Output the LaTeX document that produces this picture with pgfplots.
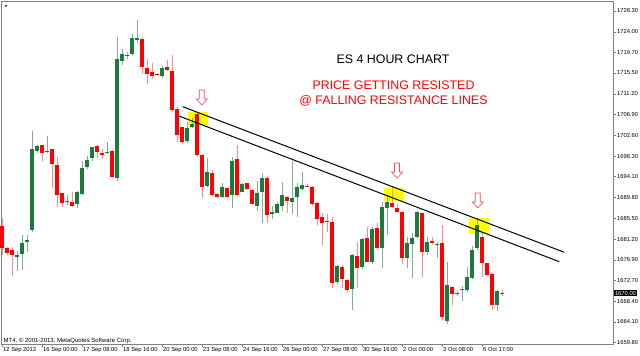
\documentclass[border=0pt]{standalone}
\usepackage{fontspec}
\setmainfont{Liberation Sans}
\usepackage{pgfplots}
\pgfplotsset{compat=1.18}
\definecolor{bodyred}{RGB}{255,0,0}
\definecolor{wickred}{RGB}{255,140,140}
\definecolor{bodygreen}{RGB}{28,122,58}
\definecolor{wickgreen}{RGB}{135,170,148}
\definecolor{arrowred}{RGB}{255,70,80}
\definecolor{hl}{RGB}{255,255,0}
\newcommand{\downarrowmark}[2]{%
  \filldraw[fill=white, draw=arrowred, line width=0.6pt, line join=miter]
    (axis cs:#1,#2) -- ++(5.5pt,6pt) -- ++(-3pt,0pt) -- ++(0pt,9pt) -- ++(-5pt,0pt)
    -- ++(0pt,-9pt) -- ++(-3pt,0pt) -- cycle;}
\begin{document}
\begin{tikzpicture}
\useasboundingbox (-1.5pt,-11.5pt) rectangle (638.5pt,344.5pt);
\begin{axis}[
  scale only axis, width=611.5pt, height=343.2pt,
  xmin=-0.1, xmax=122.2, ymin=1659.43, ymax=1730.30,
  unbounded coords=jump,
  axis line style={draw=gray, line width=0.6pt},
  tick align=outside, major tick length=3pt,
  xtick pos=left, ytick pos=right, yticklabel pos=right,
  tick style={draw=gray, line width=0.5pt},
  xtick={0,8,...,96},
  xticklabels={12 Sep 2013, 16 Sep 00:00, 17 Sep 08:00, 18 Sep 16:00, 20 Sep 00:00, 23 Sep 08:00, 24 Sep 16:00, 26 Sep 00:00, 27 Sep 08:00, 30 Sep 16:00, 2 Oct 00:00, 3 Oct 08:00, 6 Oct 17:00},
  ytick={1659.80,1664.10,1668.40,1672.70,1676.90,1681.20,1685.50,1689.80,1694.10,1698.30,1702.60,1706.90,1711.20,1715.50,1719.70,1724.00,1728.30},
  yticklabels={1659.80,1664.10,1668.40,1672.70,1676.90,1681.20,1685.50,1689.80,1694.10,1698.30,1702.60,1706.90,1711.20,1715.50,1719.70,1724.00,1728.30},
  xticklabel style={font=\fontsize{5.8}{6}\selectfont, anchor=north west, inner sep=0pt, xshift=1pt},
  yticklabel style={font=\fontsize{5.8}{6}\selectfont, anchor=west, inner sep=0pt, xshift=1pt},
  clip=false,
]
% yellow highlight boxes
\addplot[fill=hl, draw=none] coordinates {(37.1,1704.76) (41.1,1704.76) (41.1,1707.50) (37.1,1707.50)} -- cycle;
\addplot[fill=hl, draw=none] coordinates {(76.3,1689.06) (80.3,1689.06) (80.3,1691.81) (76.3,1691.81)} -- cycle;
\addplot[fill=hl, draw=none] coordinates {(93.4,1682.18) (97.3,1682.18) (97.3,1685.49) (93.4,1685.49)} -- cycle;
% red wicks (low, high)
\addplot[draw=wickred, line width=0.8pt, mark=none] coordinates {
(0,1677.91)(0,1685.49)(0,nan) (1,1677.91)(1,1679.62)(1,nan) (2,1673.64)(2,1679.50)(2,nan)
(8,1697.32)(8,1700.63)(8,nan) (10,1691.68)(10,1699.90)(10,nan) (11,1687.88)(11,1698.21)(11,nan)
(12,1687.88)(12,1690.80)(12,nan) (14,1687.88)(14,1690.98)(14,nan) (19,1698.00)(19,1700.63)(19,nan)
(20,1697.73)(20,1699.80)(20,nan) (22,1693.75)(22,1699.60)(22,nan) (25,1718.39)(25,1719.89)(25,nan)
(28,1715.29)(28,1722.99)(28,nan) (29,1713.16)(29,1718.39)(29,nan) (30,1714.26)(30,1717.50)(30,nan)
(31,1714.88)(31,1715.39)(31,nan) (33,1715.97)(33,1718.18)(33,nan) (34,1707.65)(34,1719.21)(34,nan)
(35,1701.31)(35,1708.54)(35,nan) (36,1701.04)(36,1704.40)(36,nan) (39,1698.21)(39,1707.44)(39,nan)
(40,1689.62)(40,1698.71)(40,nan) (42,1690.16)(42,1695.46)(42,nan) (43,1689.62)(43,1690.65)(43,nan)
(45,1689.74)(45,1692.01)(45,nan) (47,1690.09)(47,1700.63)(47,nan) (49,1691.33)(49,1692.84)(49,nan)
(50,1688.24)(50,1691.48)(50,nan) (53,1684.58)(53,1694.22)(53,nan) (57,1686.65)(57,1690.09)(57,nan)
(61,1691.95)(61,1692.47)(61,nan) (62,1688.09)(62,1692.15)(62,nan) (63,1684.11)(63,1688.92)(63,nan)
(64,1679.98)(64,1686.52)(64,nan) (65,1682.72)(65,1686.38)(65,nan) (66,1671.03)(66,1685.70)(66,nan)
(68,1671.10)(68,1675.85)(68,nan) (69,1670.33)(69,1672.95)(69,nan) (71,1671.03)(71,1680.66)(71,nan)
(73,1676.40)(73,1683.63)(73,nan) (75,1679.15)(75,1684.58)(75,nan) (78,1687.55)(78,1691.89)(78,nan)
(79,1686.52)(79,1688.38)(79,nan) (80,1675.99)(80,1687.00)(80,nan) (84,1673.43)(84,1686.65)(84,nan)
(86,1679.98)(86,1681.69)(86,nan) (88,1664.59)(88,1684.11)(88,nan) (90,1667.58)(90,1671.50)(90,nan)
(91,1669.44)(91,1670.68)(91,nan) (96,1673.43)(96,1682.39)(96,nan) (97,1673.57)(97,1676.26)(97,nan)
(98,1666.55)(98,1674.13)(98,nan) (100,1669.51)(100,1670.68)(100,nan)
};
% green wicks (low, high)
\addplot[draw=wickgreen, line width=0.8pt, mark=none] coordinates {
(3,1674.67)(3,1678.74)(3,nan) (4,1674.81)(4,1682.04)(4,nan) (5,1678.59)(5,1682.04)(5,nan)
(6,1682.60)(6,1703.52)(6,nan) (7,1698.91)(7,1700.63)(7,nan) (9,1698.91)(9,1702.48)(9,nan)
(13,1688.24)(13,1690.30)(13,nan) (15,1687.55)(15,1691.13)(15,nan) (16,1690.30)(16,1697.38)(16,nan)
(17,1695.57)(17,1698.35)(17,nan) (18,1697.32)(18,1700.28)(18,nan) (21,1698.77)(21,1701.25)(21,nan)
(23,1693.25)(23,1722.99)(23,nan) (24,1717.15)(24,1720.39)(24,nan) (26,1719.07)(26,1723.49)(26,nan)
(27,1721.63)(27,1726.44)(27,nan) (32,1714.40)(32,1716.94)(32,nan) (37,1701.10)(37,1705.44)(37,nan)
(38,1704.07)(38,1706.26)(38,nan) (41,1692.01)(41,1697.88)(41,nan) (44,1689.62)(44,1692.72)(44,nan)
(46,1687.68)(46,1698.21)(46,nan) (48,1690.86)(48,1692.84)(48,nan) (51,1687.06)(51,1693.25)(51,nan)
(52,1684.46)(52,1694.78)(52,nan) (54,1685.34)(54,1688.03)(54,nan) (55,1686.52)(55,1688.92)(55,nan)
(56,1687.06)(56,1692.92)(56,nan) (58,1686.38)(58,1697.38)(58,nan) (59,1685.82)(59,1692.72)(59,nan)
(60,1691.40)(60,1695.11)(60,nan) (67,1671.92)(67,1675.85)(67,nan) (70,1666.55)(70,1678.12)(70,nan)
(72,1675.12)(72,1681.42)(72,nan) (74,1675.99)(74,1683.75)(74,nan) (76,1675.16)(76,1688.92)(76,nan)
(77,1682.04)(77,1690.30)(77,nan) (81,1675.29)(81,1681.69)(81,nan) (82,1673.10)(82,1682.39)(82,nan)
(83,1681.42)(83,1687.00)(83,nan) (85,1677.91)(85,1681.69)(85,nan) (87,1677.23)(87,1680.66)(87,nan)
(89,1663.60)(89,1676.46)(89,nan) (92,1668.41)(92,1671.57)(92,nan) (93,1670.33)(93,1675.49)(93,nan)
(94,1673.05)(94,1679.77)(94,nan) (95,1678.94)(95,1685.49)(95,nan) (99,1666.35)(99,1670.68)(99,nan)
};
% red bodies (open, close)
\addplot[draw=bodyred, line width=3.1pt, mark=none] coordinates {
(0,1683.96)(0,1679.29)(0,nan) (1,1679.42)(1,1678.38)(1,nan) (2,1678.94)(2,1677.91)(2,nan)
(8,1700.63)(8,1698.91)(8,nan) (10,1699.74)(10,1696.70)(10,nan) (11,1696.50)(11,1690.30)(11,nan)
(12,1690.65)(12,1688.71)(12,nan) (14,1688.92)(14,1688.03)(14,nan) (19,1700.42)(19,1699.24)(19,nan)
(20,1698.97)(20,1698.56)(20,nan) (22,1699.45)(22,1694.02)(22,nan) (25,1719.21)(25,1719.01)(25,nan)
(28,1722.45)(28,1716.67)(28,nan) (29,1716.47)(29,1715.29)(29,nan) (30,1715.64)(30,1714.81)(30,nan)
(31,1715.23)(31,1715.02)(31,nan) (33,1716.73)(33,1716.18)(33,nan) (34,1715.91)(34,1707.79)(34,nan)
(35,1708.00)(35,1702.69)(35,nan) (36,1704.28)(36,1701.31)(36,nan) (39,1707.03)(39,1698.46)(39,nan)
(40,1698.56)(40,1692.01)(40,nan) (42,1694.91)(42,1690.30)(42,nan) (43,1690.44)(43,1689.83)(43,nan)
(45,1691.68)(45,1689.95)(45,nan) (47,1697.67)(47,1690.30)(47,nan) (49,1692.72)(49,1691.54)(49,nan)
(50,1691.33)(50,1688.38)(50,nan) (53,1693.75)(53,1686.17)(53,nan) (57,1689.83)(57,1689.06)(57,nan)
(61,1692.22)(61,1692.01)(61,nan) (62,1692.01)(62,1688.44)(62,nan) (63,1688.71)(63,1685.34)(63,nan)
(64,1685.70)(64,1684.58)(64,nan) (65,1684.99)(65,1684.79)(65,nan) (66,1684.66)(66,1672.19)(66,nan)
(68,1675.43)(68,1672.95)(68,nan) (69,1672.75)(69,1670.68)(69,nan) (71,1677.70)(71,1675.16)(71,nan)
(73,1681.36)(73,1676.53)(73,nan) (75,1683.55)(75,1679.29)(75,nan) (78,1688.71)(78,1687.88)(78,nan)
(79,1687.68)(79,1686.73)(79,nan) (80,1686.85)(80,1677.35)(80,nan) (84,1686.52)(84,1678.47)(84,nan)
(86,1680.86)(86,1680.33)(86,nan) (88,1680.33)(88,1665.17)(88,nan) (90,1671.36)(90,1669.79)(90,nan)
(91,1670.06)(91,1669.86)(91,nan) (96,1681.69)(96,1676.20)(96,nan) (97,1676.20)(97,1673.78)(97,nan)
(98,1673.99)(98,1667.58)(98,nan) (100,1670.13)(100,1669.92)(100,nan)
};
% green bodies (open, close)
\addplot[draw=bodygreen, line width=3.1pt, mark=none] coordinates {
(3,1677.56)(3,1677.91)(3,nan) (4,1678.18)(4,1680.39)(4,nan) (5,1680.59)(5,1680.95)(5,nan)
(6,1683.01)(6,1699.74)(6,nan) (7,1699.45)(7,1700.42)(7,nan) (9,1699.24)(9,1699.45)(9,nan)
(13,1688.79)(13,1689.12)(13,nan) (15,1688.44)(15,1690.86)(15,nan) (16,1690.51)(16,1695.94)(16,nan)
(17,1696.08)(17,1697.63)(17,nan) (18,1697.88)(18,1700.15)(18,nan) (21,1698.91)(21,1699.24)(21,nan)
(23,1693.75)(23,1718.39)(23,nan) (24,1718.03)(24,1719.42)(24,nan) (26,1719.42)(26,1722.66)(26,nan)
(27,1722.37)(27,1722.66)(27,nan) (32,1714.88)(32,1716.47)(32,nan) (37,1701.45)(37,1704.20)(37,nan)
(38,1704.28)(38,1704.90)(38,nan) (41,1692.22)(41,1695.11)(41,nan) (44,1689.95)(44,1691.95)(44,nan)
(46,1690.30)(46,1697.32)(46,nan) (48,1690.98)(48,1692.51)(48,nan) (51,1688.09)(51,1690.65)(51,nan)
(52,1690.86)(52,1693.87)(52,nan) (54,1686.38)(54,1686.85)(54,nan) (55,1686.65)(55,1688.44)(55,nan)
(56,1688.09)(56,1690.30)(56,nan) (58,1688.92)(58,1689.74)(58,nan) (59,1689.95)(59,1691.89)(59,nan)
(60,1691.54)(60,1692.37)(60,nan) (67,1672.40)(67,1675.64)(67,nan) (70,1670.89)(70,1677.91)(70,nan)
(72,1675.37)(72,1681.15)(72,nan) (74,1676.40)(74,1683.28)(74,nan) (76,1679.42)(76,1687.88)(76,nan)
(77,1687.55)(77,1688.92)(77,nan) (81,1677.23)(81,1680.33)(81,nan) (82,1680.12)(82,1681.36)(82,nan)
(83,1681.69)(83,1686.85)(83,nan) (85,1678.59)(85,1680.66)(85,nan) (87,1679.98)(87,1680.18)(87,nan)
(89,1664.28)(89,1671.71)(89,nan) (92,1670.68)(92,1670.89)(92,nan) (93,1670.68)(93,1673.43)(93,nan)
(94,1673.10)(94,1678.94)(94,nan) (95,1679.29)(95,1684.11)(95,nan) (99,1667.58)(99,1670.48)(99,nan)
};
% falling resistance lines
\addplot[black, line width=1pt, mark=none] coordinates {(36.13,1708.54) (112.46,1678.47)};
\addplot[black, line width=1pt, mark=none] coordinates {(35.40,1706.61) (111.46,1676.53)};
% arrows
\downarrowmark{39.94}{1708.89}
\downarrowmark{79.00}{1693.81}
\downarrowmark{95.14}{1687.62}
% texts
\node[anchor=base, inner sep=0pt, font=\fontsize{12.4}{14}\selectfont] at (axis cs:78.2,1717.50) {ES 4 HOUR CHART};
\node[anchor=base, inner sep=0pt, text=red, font=\fontsize{12.4}{14}\selectfont] at (axis cs:78.3,1712.13) {PRICE GETTING RESISTED};
\node[anchor=base, inner sep=0pt, text=red, font=\fontsize{12.4}{14}\selectfont] at (axis cs:78.3,1708.89) {@ FALLING RESISTANCE LINES};
\node[anchor=base west, inner sep=0pt, xshift=2pt, yshift=2pt, font=\fontsize{6}{7}\selectfont] at (rel axis cs:0,0) {MT4, © 2001-2013, MetaQuotes Software Corp.};
\fill[black] (rel axis cs:0,1) ++(3pt,-4pt) -- ++(3.2pt,0pt) -- ++(-1.6pt,-1.6pt) -- cycle;
% last price label
\node[anchor=west, fill=black, text=white, inner xsep=1pt, inner ysep=1pt, xshift=0.8pt, font=\fontsize{5.8}{6}\selectfont] at (axis cs:122.2,1670.00) {1670.00};
\end{axis}
\end{tikzpicture}
\end{document}
